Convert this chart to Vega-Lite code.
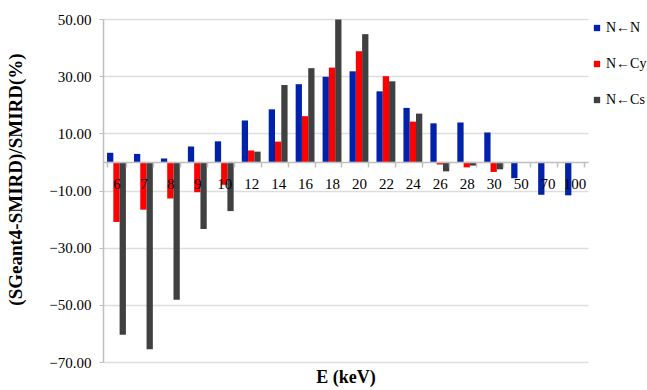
{
  "$schema": "https://vega.github.io/schema/vega-lite/v6.json",
  "autosize": {"type": "none"},
  "width": 485,
  "height": 343,
  "padding": {"left": 103, "top": 19, "right": 59, "bottom": 28},
  "background": "white",
  "config": {
    "view": {"stroke": null},
    "font": "Liberation Serif"
  },
  "data": {
    "values": [
      {"E": "6", "s": "N←N", "v": 3.2}, {"E": "6", "s": "N←Cy", "v": -21.0}, {"E": "6", "s": "N←Cs", "v": -60.5},
      {"E": "7", "s": "N←N", "v": 2.8}, {"E": "7", "s": "N←Cy", "v": -16.7}, {"E": "7", "s": "N←Cs", "v": -65.5},
      {"E": "8", "s": "N←N", "v": 1.2}, {"E": "8", "s": "N←Cy", "v": -12.8}, {"E": "8", "s": "N←Cs", "v": -48.2},
      {"E": "9", "s": "N←N", "v": 5.4}, {"E": "9", "s": "N←Cy", "v": -10.6}, {"E": "9", "s": "N←Cs", "v": -23.5},
      {"E": "10", "s": "N←N", "v": 7.2}, {"E": "10", "s": "N←Cy", "v": -8.0}, {"E": "10", "s": "N←Cs", "v": -17.2},
      {"E": "12", "s": "N←N", "v": 14.5}, {"E": "12", "s": "N←Cy", "v": 4.0}, {"E": "12", "s": "N←Cs", "v": 3.6},
      {"E": "14", "s": "N←N", "v": 18.4}, {"E": "14", "s": "N←Cy", "v": 7.1}, {"E": "14", "s": "N←Cs", "v": 26.9},
      {"E": "16", "s": "N←N", "v": 27.2}, {"E": "16", "s": "N←Cy", "v": 16.0}, {"E": "16", "s": "N←Cs", "v": 32.8},
      {"E": "18", "s": "N←N", "v": 29.8}, {"E": "18", "s": "N←Cy", "v": 33.0}, {"E": "18", "s": "N←Cs", "v": 49.8},
      {"E": "20", "s": "N←N", "v": 31.7}, {"E": "20", "s": "N←Cy", "v": 38.7}, {"E": "20", "s": "N←Cs", "v": 44.7},
      {"E": "22", "s": "N←N", "v": 24.7}, {"E": "22", "s": "N←Cy", "v": 30.0}, {"E": "22", "s": "N←Cs", "v": 28.2},
      {"E": "24", "s": "N←N", "v": 18.9}, {"E": "24", "s": "N←Cy", "v": 14.1}, {"E": "24", "s": "N←Cs", "v": 16.9},
      {"E": "26", "s": "N←N", "v": 13.5}, {"E": "26", "s": "N←Cy", "v": -0.9}, {"E": "26", "s": "N←Cs", "v": -3.3},
      {"E": "28", "s": "N←N", "v": 13.8}, {"E": "28", "s": "N←Cy", "v": -1.9}, {"E": "28", "s": "N←Cs", "v": -1.3},
      {"E": "30", "s": "N←N", "v": 10.3}, {"E": "30", "s": "N←Cy", "v": -3.5}, {"E": "30", "s": "N←Cs", "v": -2.6},
      {"E": "50", "s": "N←N", "v": -5.7},
      {"E": "70", "s": "N←N", "v": -11.5},
      {"E": "100", "s": "N←N", "v": -11.7}
    ]
  },
  "mark": {"type": "bar"},
  "encoding": {
    "x": {
      "field": "E",
      "type": "nominal",
      "sort": ["6","7","8","9","10","12","14","16","18","20","22","24","26","28","30","50","70","100"],
      "scale": {"paddingInner": 0.3, "paddingOuter": 0.15},
      "axis": {
        "title": "E (keV)",
        "titleFont": "Liberation Serif",
        "titleFontSize": 18,
        "titleFontWeight": "bold",
        "titleColor": "black",
        "titleY": 206,
        "titleBaseline": "top",
        "offset": -200,
        "zindex": 1,
        "labelAngle": 0,
        "labelFontSize": 15,
        "labelColor": "black",
        "labelPadding": 9,
        "tickBand": "extent",
        "tickSize": 5,
        "tickColor": "#bfbfbf",
        "domainColor": "#bfbfbf",
        "domainWidth": 1.5,
        "tickWidth": 1.5,
        "grid": false
      }
    },
    "xOffset": {"field": "s", "type": "nominal", "sort": ["N←N", "N←Cy", "N←Cs"], "scale": {"paddingInner": 0}},
    "y": {
      "field": "v",
      "type": "quantitative",
      "scale": {"domain": [-70, 50], "nice": false, "zero": false},
      "axis": {
        "title": "(SGeant4-SMIRD)/SMIRD(%)",
        "titleFont": "Liberation Serif",
        "titleFontSize": 19,
        "titleFontWeight": "bold",
        "titleColor": "black",
        "titleX": -78,
        "titleY": 160,
        "values": [-70, -50, -30, -10, 10, 30, 50],
        "format": ".2f",
        "labelFontSize": 15,
        "labelColor": "black",
        "labelPadding": 8,
        "tickSize": 4,
        "tickColor": "#bfbfbf",
        "domainColor": "#bfbfbf",
        "domainWidth": 1.5,
        "gridColor": "#dddddd",
        "gridWidth": 1.5
      }
    },
    "color": {
      "field": "s",
      "type": "nominal",
      "sort": ["N←N", "N←Cy", "N←Cs"],
      "scale": {"domain": ["N←N", "N←Cy", "N←Cs"], "range": ["#0022AA", "#FF0000", "#404040"]},
      "legend": {
        "title": null,
        "orient": "none",
        "legendX": 487,
        "legendY": 2,
        "symbolType": "square",
        "symbolSize": 40,
        "symbolStrokeWidth": 0,
        "labelFont": "Liberation Serif",
        "labelFontSize": 14,
        "labelColor": "black",
        "labelOffset": 2,
        "rowPadding": 22
      }
    }
  }
}
